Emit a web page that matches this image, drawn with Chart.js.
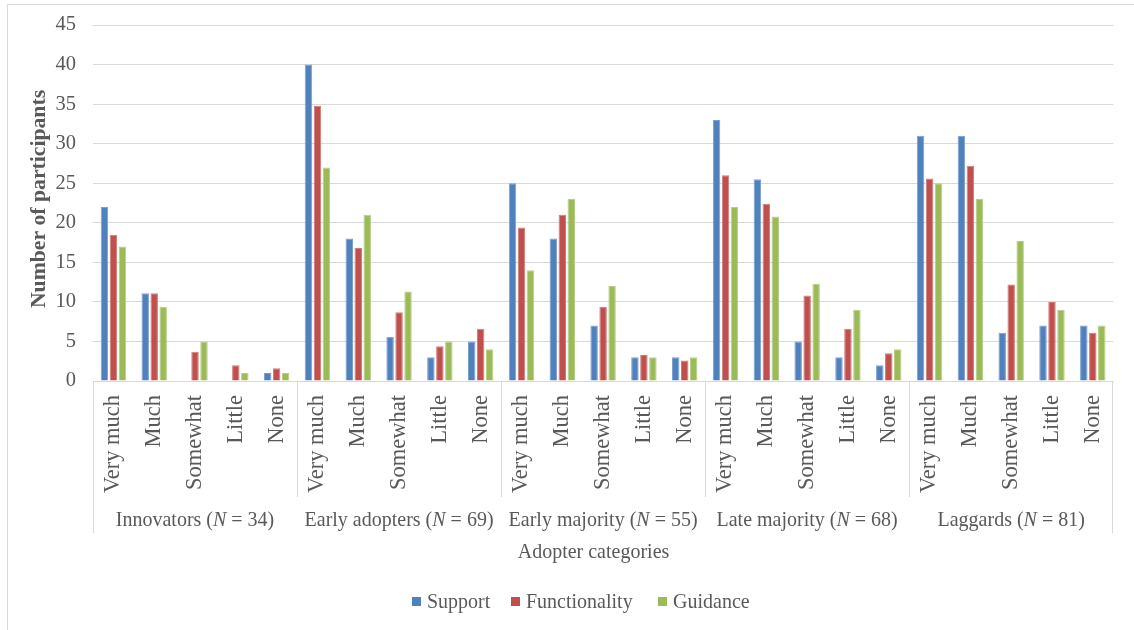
<!DOCTYPE html>
<html>
<head>
<meta charset="utf-8">
<script src="https://cdn.jsdelivr.net/npm/chart.js@4/dist/chart.umd.min.js"></script>
<style>
  html, body { margin: 0; padding: 0; background: #ffffff; }
  #wrap { width: 1134px; height: 630px; position: relative; }
</style>
</head>
<body>
<div id="wrap"><canvas id="chart" width="1134" height="630"></canvas></div>
<script>
// Adopter groups and their sizes
const groups = ['Innovators', 'Early adopters', 'Early majority', 'Late majority', 'Laggards'];
const groupN = [34, 69, 55, 68, 81];
// Response levels within each group
const levels = ['Very much', 'Much', 'Somewhat', 'Little', 'None'];
// Y axis range
const yMin = 0;
const yMax = 45;
const yStep = 5;

// Number of participants, 5 levels per group, groups in order
const support       = [22, 11.1, 0, 0, 1,    40, 18, 5.6, 3, 5,      25, 18, 7, 3, 3,       33, 25.5, 5, 3, 2,       31, 31, 6.1, 7, 7];
const functionality = [18.5, 11.1, 3.7, 2, 1.6, 34.8, 16.8, 8.7, 4.4, 6.6, 19.4, 21, 9.4, 3.3, 2.6, 26, 22.4, 10.8, 6.6, 3.5, 25.6, 27.2, 12.2, 10, 6.1];
const guidance      = [17, 9.4, 5, 1, 1,     27, 21, 11.3, 5, 4,     14, 23, 12, 3, 3,      22, 20.8, 12.3, 9, 4,    25, 23, 17.7, 9, 7];

const seriesNames = ['Support', 'Functionality', 'Guidance'];
const seriesFill = ['#4F81BD', '#C0504D', '#9BBB59'];
const seriesEdge = ['#7A9FCF', '#D07A78', '#B6CF85'];

const TEXT = '#595959';
const LINE = '#D9D9D9';
const SERIF = '"Liberation Serif", "Times New Roman", serif';
const STRETCH = 1.085;

const labels = [];
groups.forEach(() => levels.forEach(l => labels.push(l)));

// Text drawn slightly taller than wide, like the rest of the figure
function drawRuns(ctx, runs, x, baseline, align) {
  let total = 0;
  runs.forEach(r => { ctx.font = r.font; r.w = ctx.measureText(r.t).width; total += r.w; });
  let cx = align === 'center' ? x - total / 2 : x;
  runs.forEach(r => {
    ctx.save();
    ctx.font = r.font;
    ctx.textAlign = 'left';
    ctx.textBaseline = 'alphabetic';
    ctx.translate(cx, baseline);
    ctx.scale(1, STRETCH);
    ctx.fillText(r.t, 0, 0);
    ctx.restore();
    cx += r.w;
  });
}

const decorations = {
  id: 'decorations',
  afterDraw(chart) {
    const ctx = chart.ctx;
    const xs = chart.scales.x;
    const area = chart.chartArea;
    const half = (xs.getPixelForValue(1) - xs.getPixelForValue(0)) / 2;
    const plain = '20px ' + SERIF;
    const ital = 'italic 20px ' + SERIF;

    ctx.save();
    ctx.strokeStyle = LINE;
    ctx.lineWidth = 1;
    // outer frame (top and left edges)
    ctx.beginPath();
    ctx.moveTo(7.5, 630); ctx.lineTo(7.5, 4.5); ctx.lineTo(1134, 4.5);
    ctx.stroke();

    // category box: outer edges and group separators
    ctx.beginPath();
    const xl = Math.round(area.left) + 0.5, xr = Math.round(area.right) - 0.5;
    ctx.moveTo(xl, area.bottom); ctx.lineTo(xl, 533);
    ctx.moveTo(xr, area.bottom); ctx.lineTo(xr, 533);
    for (let g = 1; g < groups.length; g++) {
      const px = Math.round(xs.getPixelForValue(g * levels.length) - half) + 0.5;
      ctx.moveTo(px, area.bottom); ctx.lineTo(px, 497);
    }
    ctx.stroke();

    ctx.fillStyle = TEXT;
    // group labels
    groups.forEach((g, i) => {
      const a = xs.getPixelForValue(i * levels.length) - half;
      const b = xs.getPixelForValue((i + 1) * levels.length - 1) + half;
      drawRuns(ctx, [
        { t: g + ' (', font: plain },
        { t: 'N', font: ital },
        { t: ' = ' + groupN[i] + ')', font: plain }
      ], (a + b) / 2, 526, 'center');
    });

    // axis titles
    drawRuns(ctx, [{ t: 'Adopter categories', font: plain }], 593.5, 558, 'center');

    ctx.save();
    ctx.font = 'bold 20px ' + SERIF;
    ctx.textAlign = 'center';
    ctx.textBaseline = 'middle';
    ctx.translate(40, 199);
    ctx.rotate(-Math.PI / 2);
    ctx.scale(STRETCH, 1);
    ctx.fillText('Number of participants', 0, 0);
    ctx.restore();

    // legend
    const markerX = [412, 511, 658];
    seriesNames.forEach((name, i) => {
      ctx.fillStyle = seriesFill[i];
      ctx.fillRect(markerX[i], 597, 9, 9);
      ctx.fillStyle = TEXT;
      drawRuns(ctx, [{ t: name, font: plain }], markerX[i] + 15, 608, 'left');
    });
    ctx.restore();
  }
};

new Chart(document.getElementById('chart'), {
  type: 'bar',
  data: {
    labels: labels,
    datasets: [support, functionality, guidance].map((d, i) => ({
      label: seriesNames[i],
      data: d,
      backgroundColor: seriesFill[i],
      borderColor: seriesEdge[i],
      borderWidth: 1,
      borderSkipped: 'start',
      categoryPercentage: 0.66,
      barPercentage: 0.83
    }))
  },
  options: {
    responsive: false,
    animation: false,
    devicePixelRatio: 1,
    layout: { padding: { left: 0, right: 10, top: 25, bottom: 0 } },
    plugins: { legend: { display: false }, tooltip: { enabled: false } },
    scales: {
      x: {
        grid: { display: false, drawTicks: false },
        border: { display: true, color: LINE, width: 1 },
        ticks: {
          autoSkip: false,
          maxRotation: 90,
          minRotation: 90,
          padding: 14,
          color: TEXT,
          font: { family: SERIF, size: 22.5 }
        },
        afterFit(scale) { scale.height = 249; }
      },
      y: {
        min: yMin,
        max: yMax,
        grid: { color: LINE, lineWidth: 1, drawTicks: false },
        border: { display: false },
        ticks: {
          stepSize: yStep,
          padding: 17,
          color: TEXT,
          font: { family: SERIF, size: 20.5 }
        },
        afterFit(scale) {
          scale.width = 93;
          scale.paddingTop = 0;
          scale.paddingBottom = 0;
        }
      }
    }
  },
  plugins: [decorations]
});
</script>
</body>
</html>
